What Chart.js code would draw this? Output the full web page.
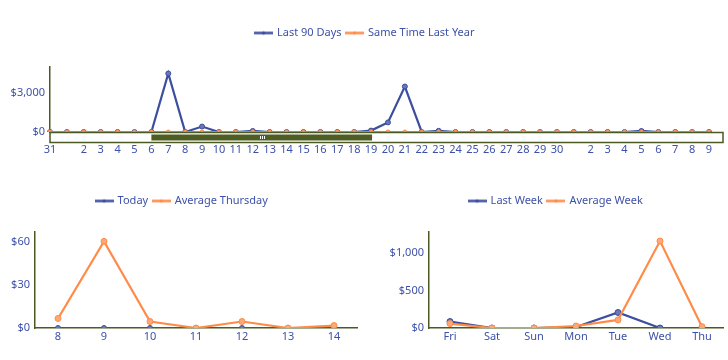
<!DOCTYPE html>
<html>
<head>
<meta charset="utf-8">
<script src="https://cdn.jsdelivr.net/npm/chart.js@4/dist/chart.umd.min.js"></script>
<style>
  html, body { margin: 0; padding: 0; background: #fff; }
  body { width: 728px; height: 360px; position: relative; overflow: hidden; }
  .box { position: absolute; }
</style>
</head>
<body>
<div class="box" style="left:0;top:0;width:728px;height:172px"><canvas id="topChart" width="728" height="172"></canvas></div>
<div class="box" style="left:0;top:180px;width:364px;height:180px"><canvas id="hourChart" width="364" height="180"></canvas></div>
<div class="box" style="left:364px;top:180px;width:364px;height:180px"><canvas id="weekChart" width="364" height="180"></canvas></div>
<script>
// top chart: last 90 days (window shown) vs same time last year
const topLabels = ['31', '', '2', '3', '4', '5', '6', '7', '8', '9', '10', '11', '12', '13', '14', '15',
  '16', '17', '18', '19', '20', '21', '22', '23', '24', '25', '26', '27', '28', '29', '30',
  '', '2', '3', '4', '5', '6', '7', '8', '9'];
const last90Days = [0, 0, 0, 0, 0, 0, 0, 4500, 0, 420, 0, 0, 80, 0, 0, 0,
  0, 0, 0, 110, 740, 3500, 0, 90, 0, 0, 0, 0, 0, 0, 0,
  0, 0, 0, 0, 80, 0, 0, 0, 0];
const sameTimeLastYear = [0, 0, 0, 0, 0, 0, 0, 0, 0, 0, 0, 0, 0, 0, 0, 0,
  0, 0, 0, 0, 0, 0, 0, 0, 0, 0, 0, 0, 0, 0, 0,
  0, 0, 0, 0, 0, 0, 0, 0, 0];
const topTicks = [0, 3000];

// bottom left: today by hour
const hourLabels = ['8', '9', '10', '11', '12', '13', '14'];
const today = [0, 0, 0, 0, 0, 0, 0];
const averageThursday = [6.6, 60, 4.5, 0, 4.5, 0, 1.7];
const hourTicks = [0, 30, 60];

// bottom right: last week by day
const dayLabels = ['Fri', 'Sat', 'Sun', 'Mon', 'Tue', 'Wed', 'Thu'];
const lastWeek = [86, 0, 0, 13, 207, 0, 0];
const averageWeek = [59, 0, 0, 27, 108, 1161, 18];
const weekTicks = [0, 500, 1000];

const BLUE = '#3c4e9e';
const ORANGE = '#ff8b48';
const OLIVE = '#4b5a22';
const TEXT = '#3d51a8';
const FONT = { family: "'Noto Sans', sans-serif", size: 11 };

Chart.defaults.font = FONT;
Chart.defaults.color = TEXT;
Chart.defaults.animation = false;

// legend marker: short line with a dot
function legendMark(color) {
  const c = document.createElement('canvas');
  c.width = 19; c.height = 7;
  const g = c.getContext('2d');
  g.strokeStyle = color;
  g.lineWidth = 2.5;
  g.beginPath(); g.moveTo(0, 3.5); g.lineTo(19, 3.5); g.stroke();
  g.fillStyle = color;
  g.beginPath(); g.arc(9.5, 3.5, 1.8, 0, Math.PI * 2); g.fill();
  return c;
}

// fixed legend height, plus a sideways nudge of the legend
function legendBox(h, dx) {
  return {
    id: 'legendBox',
    beforeInit(chart) {
      const fit = chart.legend.fit;
      chart.legend.fit = function () { fit.call(this); this.height = h; };
    },
    afterLayout(chart) {
      chart.legend.left += dx;
      chart.legend.right += dx;
    }
  };
}

function money(v) {
  return '$' + Number(v).toLocaleString('en-US');
}

function series(label, data, color, order, radius) {
  return {
    label, data, order,
    borderColor: color,
    backgroundColor: color,
    pointBackgroundColor: color === BLUE ? '#6877b8' : '#ffa777',
    pointBorderColor: color,
    pointRadius: radius,
    pointBorderWidth: 1,
    borderWidth: 2.2,
    tension: 0
  };
}

function options(padTop, padRight, yWidth, yMax, ticks, xHeight, xPad, offset) {
  return {
    responsive: false,
    layout: { padding: { top: padTop, right: padRight, left: 0, bottom: 0 } },
    plugins: {
      tooltip: { enabled: false },
      legend: {
        position: 'top',
        labels: {
          usePointStyle: true,
          pointStyleWidth: 16,
          padding: 5,
          color: TEXT,
          font: FONT,
          sort: (a, b) => a.datasetIndex - b.datasetIndex,
          generateLabels(chart) {
            const items = Chart.defaults.plugins.legend.labels.generateLabels(chart);
            items.forEach(it => { it.pointStyle = legendMark(it.strokeStyle); });
            return items;
          }
        }
      }
    },
    scales: {
      x: {
        offset: offset,
        grid: { display: false, drawTicks: false },
        border: { display: true, color: OLIVE, width: 1.5 },
        ticks: { padding: xPad, maxRotation: 0, autoSkip: false, color: TEXT },
        afterFit(s) { s.height = xHeight; }
      },
      y: {
        min: 0,
        max: yMax,
        grid: { display: false, drawTicks: false },
        border: { display: true, color: OLIVE, width: 1.5 },
        ticks: { padding: 5, color: TEXT, callback: money },
        afterBuildTicks(s) { s.ticks = ticks.map(v => ({ value: v })); },
        afterFit(s) { s.width = yWidth; }
      }
    }
  };
}

// navigator bar under the top chart
const scrollBar = {
  id: 'scrollBar',
  afterDraw(chart) {
    const { ctx, chartArea } = chart;
    const x = chart.scales.x;
    const top = chartArea.bottom + 0.5;
    const left = chartArea.left;
    const right = chartArea.right + 14;
    ctx.save();
    ctx.fillStyle = '#fff';
    ctx.fillRect(left, top, right - left, 10);
    ctx.strokeStyle = OLIVE;
    ctx.lineWidth = 1.5;
    ctx.strokeRect(left, top, right - left, 10);
    const a = x.getPixelForValue(6);
    const b = x.getPixelForValue(19) + 1;
    ctx.fillStyle = '#4e5d23';
    ctx.fillRect(a, top + 2, b - a, 6);
    ctx.strokeStyle = '#fff';
    ctx.lineWidth = 1;
    const mid = Math.round((a + b) / 2);
    for (let i = -2; i <= 2; i += 2) {
      ctx.beginPath();
      ctx.moveTo(mid + i + 0.5, top + 3.5);
      ctx.lineTo(mid + i + 0.5, top + 6.5);
      ctx.stroke();
    }
    ctx.restore();
  }
};

new Chart(document.getElementById('topChart'), {
  type: 'line',
  data: {
    labels: topLabels,
    datasets: [
      series('Last 90 Days', last90Days, BLUE, 1, 2.5),
      series('Same Time Last Year', sameTimeLastYear, ORANGE, 0, 2)
    ]
  },
  options: options(22.5, 19, 50, 5000, topTicks, 40, 11, false),
  plugins: [legendBox(44.5, 10.5), scrollBar]
});

new Chart(document.getElementById('hourChart'), {
  type: 'line',
  data: {
    labels: hourLabels,
    datasets: [
      series('Today', today, BLUE, 1, 2.5),
      series('Average Thursday', averageThursday, ORANGE, 0, 3)
    ]
  },
  options: options(10.5, 7, 35, 66.5, hourTicks, 32, 2, true),
  plugins: [legendBox(41.5, 3.5)]
});

new Chart(document.getElementById('weekChart'), {
  type: 'line',
  data: {
    labels: dayLabels,
    datasets: [
      series('Last Week', lastWeek, BLUE, 1, 3),
      series('Average Week', averageWeek, ORANGE, 0, 3)
    ]
  },
  options: options(10.5, 0, 65, 1282, weekTicks, 32, 2, true),
  plugins: [legendBox(41.5, 10)]
});
</script>
</body>
</html>
